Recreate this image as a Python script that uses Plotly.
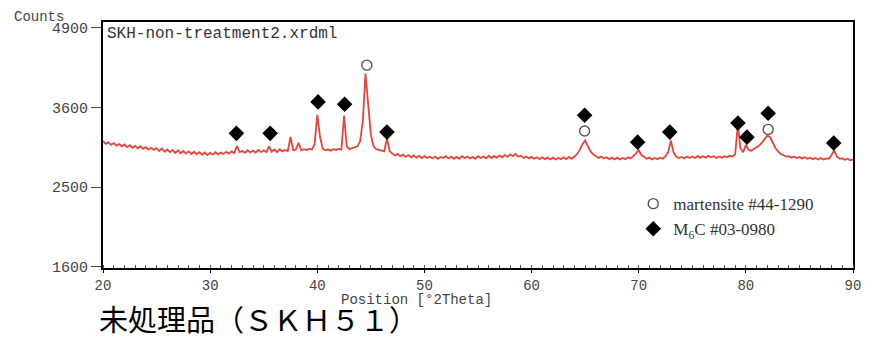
import numpy as np
import plotly.graph_objects as go

# ---------------- data ----------------
theta_start, theta_step = 20.0, 0.25
counts = [
    3110, 3075, 3095, 3060,  # 20
    3085, 3050, 3070, 3040,  # 21
    3065, 3030, 3055, 3020,  # 22
    3045, 3010, 3040, 3005,  # 23
    3030, 2995, 3020, 2990,  # 24
    3015, 2975, 3010, 2965,  # 25
    2995, 2960, 2990, 2950,  # 26
    2985, 2945, 2975, 2940,  # 27
    2970, 2935, 2965, 2930,  # 28
    2960, 2925, 2955, 2920,  # 29
    2950, 2925, 2960, 2930,  # 30
    2955, 2935, 2965, 2940,  # 31
    2970, 2945, 3045, 2960,  # 32
    2975, 2950, 2985, 2955,  # 33
    2980, 2955, 2990, 2960,  # 34
    2985, 2960, 3040, 2965,  # 35
    2995, 2960, 3000, 2970,  # 36
    2990, 2975, 3170, 2985,  # 37
    2995, 3090, 2985, 3000,  # 38
    2990, 3005, 2995, 3070,  # 39
    3490, 3180, 3010, 2985,  # 40
    2995, 2980, 3000, 2990,  # 41
    3005, 2995, 3480, 3040,  # 42
    3000, 3010, 3020, 3040,  # 43
    3110, 3400, 4130, 3700,  # 44
    3200, 3040, 3000, 2990,  # 45
    2980, 2970, 3150, 2975,  # 46
    2940, 2915, 2935, 2905,  # 47
    2925, 2895, 2920, 2890,  # 48
    2915, 2885, 2910, 2880,  # 49
    2905, 2880, 2900, 2875,  # 50
    2900, 2870, 2895, 2880,  # 51
    2905, 2875, 2900, 2870,  # 52
    2895, 2870, 2905, 2880,  # 53
    2900, 2875, 2895, 2870,  # 54
    2905, 2880, 2900, 2875,  # 55
    2910, 2880, 2905, 2885,  # 56
    2915, 2890, 2920, 2895,  # 57
    2930, 2905, 2935, 2900,  # 58
    2910, 2880, 2900, 2875,  # 59
    2895, 2870, 2890, 2865,  # 60
    2890, 2865, 2885, 2860,  # 61
    2885, 2860, 2880, 2865,  # 62
    2890, 2865, 2895, 2870,  # 63
    2900, 2935, 2990, 3070,  # 64
    3120, 3040, 2970, 2930,  # 65
    2905, 2880, 2900, 2875,  # 66
    2890, 2865, 2885, 2860,  # 67
    2885, 2860, 2880, 2865,  # 68
    2890, 2875, 2905, 2940,  # 69
    2985, 2920, 2890, 2870,  # 70
    2885, 2860, 2880, 2865,  # 71
    2885, 2870, 2905, 2960,  # 72
    3120, 2960, 2900, 2880,  # 73
    2895, 2875, 2900, 2880,  # 74
    2900, 2880, 2905, 2885,  # 75
    2905, 2885, 2910, 2890,  # 76
    2905, 2880, 2900, 2885,  # 77
    2905, 2890, 2910, 2900,  # 78
    2930, 3340, 3010, 2960,  # 79
    3060, 2990, 2980, 3000,  # 80
    3020, 3050, 3090, 3140,  # 81
    3190, 3170, 3090, 3020,  # 82
    2970, 2935, 2920, 2900,  # 83
    2905, 2885, 2900, 2880,  # 84
    2895, 2875, 2890, 2870,  # 85
    2885, 2865, 2880, 2860,  # 86
    2880, 2860, 2875, 2870,  # 87
    2920, 2985, 2900, 2870,  # 88
    2875, 2855, 2870, 2850,  # 89
    2860,                    # 90
]
two_theta = theta_start + theta_step * np.arange(len(counts))

martensite_theta = [44.63, 64.95, 82.08]
martensite_counts = [4268, 3255, 3279]

m6c_theta = [32.45, 35.6, 40.07, 42.55, 46.5, 64.95, 69.9, 72.9, 79.26, 80.1, 82.08, 88.2]
m6c_counts = [3222, 3222, 3686, 3650, 3240, 3485, 3098, 3240, 3371, 3168, 3514, 3085]

y_tick_counts = [1600, 2500, 3600, 4900]
x_ticks = [20, 30, 40, 50, 60, 70, 80, 90]

# square-root intensity scale (as in the original XRD plot)
def sq(v):
    return np.sqrt(np.asarray(v, dtype=float))

mono = "Liberation Mono"

fig = go.Figure()
fig.add_trace(go.Scatter(
    x=two_theta, y=sq(counts), mode="lines",
    line=dict(color="#e5453b", width=1.8), showlegend=False, hoverinfo="skip"))
fig.add_trace(go.Scatter(
    x=martensite_theta, y=sq(martensite_counts), mode="markers",
    name="martensite #44-1290",
    marker=dict(symbol="circle-open", size=10, color="#555555", line=dict(width=1.4))))
fig.add_trace(go.Scatter(
    x=m6c_theta, y=sq(m6c_counts), mode="markers",
    name="M<sub>6</sub>C #03-0980",
    marker=dict(symbol="diamond", size=12, color="black")))

# the page body has an 8 px margin, so the figure is 8 px smaller and margins shifted
fig.update_layout(
    width=865, height=330,
    margin=dict(l=95, r=15, t=14, b=70),
    paper_bgcolor="white", plot_bgcolor="white",
    showlegend=True,
    legend=dict(x=0.707, y=0.333, xanchor="left", yanchor="top",
                font=dict(family="Liberation Serif", size=17, color="#333333"),
                bgcolor="rgba(0,0,0,0)", tracegroupgap=0, itemwidth=30),
    xaxis=dict(range=[20, 90], tickvals=x_ticks, ticks="outside", ticklen=3,
               tickcolor="black", showgrid=False, zeroline=False,
               showline=True, linecolor="black", linewidth=2, mirror=True,
               tickfont=dict(family=mono, size=14, color="#444444"),
               minor=dict(dtick=1, ticks="inside", ticklen=3, tickcolor="#555555")),
    yaxis=dict(range=[39.85, 70.75], tickvals=list(sq(y_tick_counts)),
               ticktext=[str(v) for v in y_tick_counts],
               ticks="outside", ticklen=10, tickcolor="#444444",
               showgrid=False, zeroline=False,
               showline=True, linecolor="black", linewidth=2, mirror=True,
               tickfont=dict(family=mono, size=15, color="#444444")),
)

fig.add_annotation(text="SKH-non-treatment2.xrdml", xref="paper", yref="paper",
                   x=0, y=1, xanchor="left", yanchor="top", xshift=2, yshift=-1,
                   showarrow=False, font=dict(family=mono, size=16, color="#333333"))
fig.add_annotation(text="Counts", xref="paper", yref="paper",
                   x=0, y=1, xanchor="left", yanchor="top", xshift=-91, yshift=15,
                   showarrow=False, font=dict(family=mono, size=14, color="#444444"))
fig.add_annotation(text="Position [°2Theta]", xref="paper", yref="paper",
                   x=0.315, y=0, xanchor="left", yanchor="top", yshift=-22,
                   showarrow=False, font=dict(family=mono, size=14, color="#444444"))
fig.add_annotation(text="未処理品（ＳＫＨ５１）", xref="paper", yref="paper",
                   x=0, y=0, xanchor="left", yanchor="top", xshift=-6, yshift=-27,
                   showarrow=False, font=dict(family="Noto Sans CJK JP", size=29, color="black"))

fig.write_html("out.html")
